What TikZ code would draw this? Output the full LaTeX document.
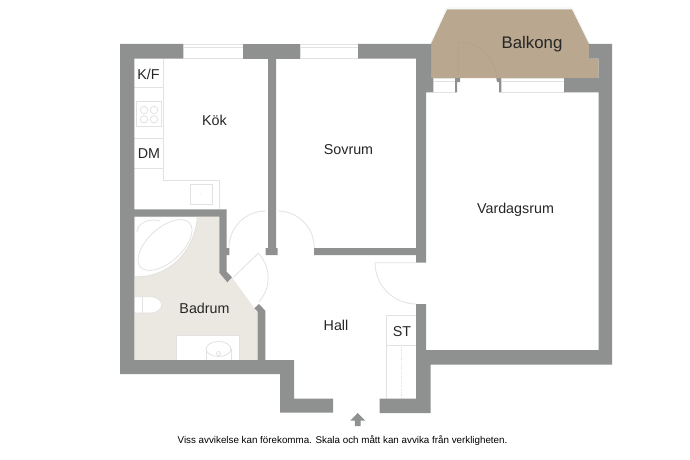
\documentclass[tikz,border=0pt]{standalone}
\usepackage{fontspec}
\setmainfont{Liberation Sans}
\usepackage{tikz}
\definecolor{WallGray}{HTML}{8F9090}
\definecolor{BalconyTan}{HTML}{B9A78F}
\definecolor{BathFloor}{HTML}{EBE8E2}
\definecolor{FixtureGray}{HTML}{E2E2E0}
\tikzset{
	wall/.style={fill=WallGray},
	fixture/.style={draw=FixtureGray, line width=0.8pt},
	roomlabel/.style={font=\fontsize{14.3}{16}\selectfont, text=black!85, inner sep=0pt},
	windowpane/.pic={
		\draw[fixture] (0,0) rectangle (#1,14.7);
		\draw[fixture] (0,3) -- (#1,3);
	}
}

\begin{document}
\begin{tikzpicture}[x=1pt, y=-1pt]
\useasboundingbox[fill=white] (0,0) rectangle (690,460);

\fill[fill=BalconyTan] (431,43) -- (447,9.5) -- (572,9.5) -- (589,43) -- (589,58.7) -- (598.7,58.7) -- (598.7,78) -- (431,78) -- cycle;
\draw[fixture, draw=FixtureGray!50!white] (431,43) -- (447,8) -- (572,8) -- (589,43);
\draw[draw=BalconyTan!96!black, line width=0.5pt] (458,78) -- (458,42) arc[start angle=-90, end angle=0, radius=38.7];

\fill[fill=BathFloor] (134.3,216.7) -- (219.3,216.7) -- (219.3,272.7) -- (227.3,282.3) -- (232,277.3) -- (254.3,308.3) -- (257.7,311.7) -- (257.7,360) -- (134.3,360) -- cycle;
\draw[fixture, fill=white] (134.3,276.7) .. controls (170,278) and (195,250) .. (197.3,216.7) -- (134.3,216.7) -- cycle;
\draw[fixture, rotate around={42:(165,245)}] (165,245) ellipse (33 and 17);
\draw[fixture] (137,232) .. controls (138,222) and (150,218) .. (160,221);
\draw[fixture, fill=white] (176,335.7) rectangle (239,360);
\draw[fixture] (206,349) -- (206,360);
\draw[fixture] (231,349) -- (231,360);
\draw[fixture] (218.5,349) ellipse (12.5 and 7.5);
\draw[fixture] (218.5,353.5) circle (2);
\draw[fixture, fill=white] (134.3,296.7) -- (150,296.7) arc[start angle=-90, end angle=90, x radius=11.7, y radius=8.2] -- (134.3,313.1);
\draw[fixture] (142,296.7) -- (142,313.1);

\draw[fixture] (163.3,58.7) -- (163.3,180) -- (219.3,180) -- (219.3,209.3);
\foreach \y in {87.3, 138.3, 168.3}
	\draw[fixture] (134.3,\y) -- (163.3,\y);
\draw[fixture] (136.7,101.7) rectangle (161.7,126.7);
\foreach \i in {144, 154}
	\foreach \j in {110, 119.3}
		\draw[fixture] (\i,\j) circle (3.7);
\draw[fixture] (190,184) rectangle (212.7,204.3);
\fill[fill=FixtureGray] (201,194) circle (0.7);

\pic at (183,44) {windowpane={60}};
\pic at (300,44) {windowpane={58}};
\pic at (433,78) {windowpane={22}};
\pic at (501,78) {windowpane={63}};

\draw[fixture] (265.7,211) arc[start angle=-90, end angle=-180, radius=36.7];
\draw[fixture] (277.7,211) arc[start angle=-90, end angle=0, radius=36.5];
\draw[fixture] (233.3,277.3) -- (258.3,253.3) arc[start angle=-43.8, end angle=43, radius=35.5];
\draw[fixture] (416.3,262.7) -- (375,262.7) arc[start angle=180, end angle=90, radius=41.3];

\draw[fixture] (416,315.7) -- (386.7,315.7) -- (386.7,398.7);
\draw[fixture] (386.7,345) -- (416,345);
\draw[fixture, densely dotted] (401.7,345) -- (401.7,398.7);

\fill[wall] (120,44) -- (183,44) -- (183,58.7) -- (134.3,58.7) -- (134.3,209.3) -- (226.7,209.3) -- (226.7,248) -- (229.3,248) -- (229.3,255) -- (226.7,255) -- (226.7,271.7) -- (232,277.3) -- (227.3,282.3) -- (219.3,272.7) -- (219.3,216.7) -- (134.3,216.7) -- (134.3,360) -- (257.7,360) -- (257.7,311.7) -- (254.3,308.3) -- (259,304) -- (265.3,310.7) -- (265.3,360) -- (294,360) -- (294,398.7) -- (333,398.7) -- (333,412.7) -- (280,412.7) -- (280,374) -- (120,374) -- cycle;
\fill[wall] (243,44) rectangle (300,58.7);
\fill[wall] (268,58.7) -- (276,58.7) -- (276,248) -- (277.7,248) -- (277.7,255) -- (265.7,255) -- (265.7,248) -- (268,248) -- cycle;
\fill[wall] (358,44) -- (431,44) -- (431,78) -- (433,78) -- (433,92.3) -- (426,92.3) -- (426,262.7) -- (416,262.7) -- (416,255) -- (314,255) -- (314,248) -- (416,248) -- (416,58.7) -- (358,58.7) -- cycle;
\fill[wall] (589,44) -- (612,44) -- (612,364.7) -- (430.6,364.7) -- (430.6,413) -- (379.7,413) -- (379.7,398.7) -- (416,398.7) -- (416,304) -- (426,304) -- (426,350) -- (598.7,350) -- (598.7,92.3) -- (564,92.3) -- (564,78) -- (598.7,78) -- (598.7,58.7) -- (589,58.7) -- cycle;
\fill[wall] (455,78) -- (460,78) -- (460,82) -- (457,82) -- (457,92.3) -- (455,92.3) -- cycle;
\fill[wall] (497,78) -- (501,78) -- (501,92.3) -- (499,92.3) -- (499,82) -- (497,82) -- cycle;

\fill[wall] (357.7,413) -- (365,420.5) -- (360.5,420.5) -- (360.5,426) -- (354.9,426) -- (354.9,420.5) -- (350.4,420.5) -- cycle;

\node[roomlabel] (kitchen) at (214.5,120) {Kök};
\node[roomlabel] (bedroom) at (348.5,150) {Sovrum};
\node[roomlabel] (livingroom) at (515.5,209.5) {Vardagsrum};
\node[roomlabel, font=\fontsize{16.8}{18}\selectfont] (balcony) at (532,44) {Balkong};
\node[roomlabel] (bathroom) at (204.5,308) {Badrum};
\node[roomlabel] (hallway) at (336,325) {Hall};
\node[roomlabel] (fridge) at (148.5,74) {K/F};
\node[roomlabel] (dishwasher) at (149,154) {DM};
\node[roomlabel] (storage) at (402,332) {ST};
\node[inner sep=0pt, font=\fontsize{9.8}{11}\selectfont] (disclaimer) at (342.5,441) {Viss avvikelse kan förekomma. Skala och mått kan avvika från verkligheten.};
\end{tikzpicture}
\end{document}
